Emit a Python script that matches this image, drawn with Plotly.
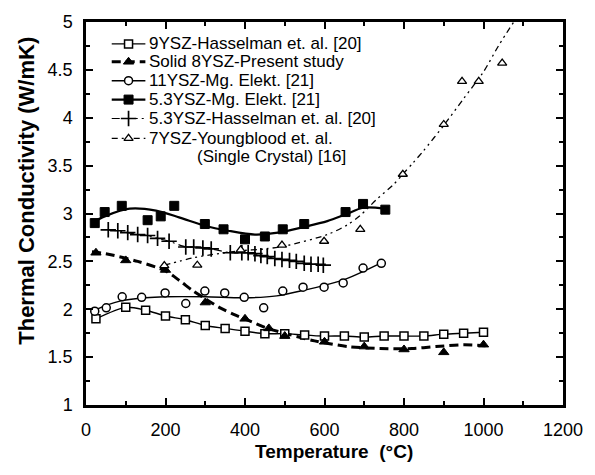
import plotly.graph_objects as go

# ---------------- data (temperature in °C, conductivity in W/mK) ----------------
labels = [
    "9YSZ-Hasselman et. al. [20]",
    "Solid 8YSZ-Present study",
    "11YSZ-Mg. Elekt. [21]",
    "5.3YSZ-Mg. Elekt. [21]",
    "5.3YSZ-Hasselman et. al. [20]",
    "7YSZ-Youngblood et. al.",
]
label_extra = "(Single Crystal) [16]"

# 9YSZ, Hasselman et al.
t_9ysz = [25, 100, 150, 200, 250, 300, 350, 400, 450, 500, 550, 600, 650, 700,
          750, 800, 850, 900, 950, 1000]
k_9ysz = [1.90, 2.02, 1.99, 1.93, 1.89, 1.83, 1.80, 1.77, 1.745, 1.745, 1.73,
          1.72, 1.72, 1.71, 1.72, 1.72, 1.72, 1.74, 1.75, 1.76]

# Solid 8YSZ, present study (measured points and fitted curve)
t_8ysz = [25, 100, 200, 300, 400, 460, 500, 600, 700, 800, 900, 1000]
k_8ysz = [2.59, 2.51, 2.41, 2.07, 1.90, 1.80, 1.72, 1.66, 1.61, 1.58, 1.55, 1.63]
t_8ysz_fit = [15, 50, 130, 200, 235, 270, 300, 335, 370, 410, 450, 490, 575, 660,
              740, 820, 880, 950, 1005]
k_8ysz_fit = [2.60, 2.58, 2.50, 2.40, 2.30, 2.19, 2.11, 2.02, 1.95, 1.88, 1.81,
              1.76, 1.67, 1.61, 1.59, 1.59, 1.61, 1.63, 1.62]

# 11YSZ, Mg. Elektron
t_11ysz = [22, 51, 91, 140, 199, 251, 299, 349, 398, 447, 495, 546, 599, 647, 697, 743]
k_11ysz = [1.98, 2.015, 2.13, 2.125, 2.17, 2.06, 2.19, 2.17, 2.125, 2.015, 2.19,
           2.23, 2.23, 2.275, 2.43, 2.48]
t_11ysz_fit = [12, 50, 90, 150, 200, 300, 400, 480, 550, 600, 650, 700, 745]
k_11ysz_fit = [1.97, 2.04, 2.09, 2.12, 2.13, 2.13, 2.12, 2.14, 2.20, 2.25, 2.31,
               2.40, 2.49]

# 5.3YSZ, Mg. Elektron
t_53mg = [22, 47, 90, 155, 188, 222, 299, 346, 400, 450, 495, 549, 653, 697, 753]
k_53mg = [2.90, 3.015, 3.08, 2.93, 2.97, 3.08, 2.89, 2.835, 2.73, 2.76, 2.835,
          2.89, 3.015, 3.10, 3.04]
t_53mg_fit = [14, 47, 110, 176, 234, 300, 358, 425, 483, 549, 607, 653, 697, 753]
k_53mg_fit = [2.90, 2.97, 3.05, 3.03, 2.96, 2.87, 2.82, 2.78, 2.80, 2.86, 2.92,
              2.99, 3.06, 3.05]

# 5.3YSZ, Hasselman et al.
t_53h = [56, 80, 105, 130, 155, 180, 209, 251, 271, 294, 315, 363, 392, 408, 425,
         440, 456, 475, 493, 512, 529, 549, 566, 584, 597]
k_53h = [2.83, 2.82, 2.80, 2.78, 2.77, 2.74, 2.71, 2.65, 2.65, 2.64, 2.63, 2.59,
         2.59, 2.59, 2.58, 2.56, 2.55, 2.53, 2.52, 2.51, 2.50, 2.48, 2.47, 2.47, 2.46]

# 7YSZ single crystal, Youngblood et al.
t_7ysz = [197, 280, 389, 493, 599, 690, 797, 900, 946, 988, 1047]
k_7ysz = [2.455, 2.46, 2.62, 2.67, 2.71, 2.835, 3.41, 3.93, 4.38, 4.38, 4.57]
t_7ysz_fit = [197, 267, 316, 387, 450, 500, 607, 657, 690, 732, 773, 797, 823,
              848, 900, 950, 1000, 1039, 1076]
k_7ysz_fit = [2.46, 2.535, 2.57, 2.61, 2.63, 2.66, 2.78, 2.88, 2.98, 3.15, 3.30,
              3.41, 3.53, 3.65, 3.92, 4.20, 4.48, 4.76, 5.00]

# ---------------- layout constants ----------------
W, H = 595, 475
ML, MR, MT, MB = 86, 27, 20, 70
PW, PH = W - ML - MR, H - MT - MB
FONT = "Liberation Sans, Arial, Helvetica, sans-serif"
INK = "black"


def paper_x(px):
    return (px - ML) / PW


def paper_y(py):
    return (H - MB - py) / PH


# per-series styling
open_sq = dict(symbol="square", size=8, color="white", line=dict(color=INK, width=1.5))
fill_tri = dict(symbol="triangle-up", size=9, color=INK, line=dict(color=INK, width=1))
open_ci = dict(symbol="circle", size=8, color="white", line=dict(color=INK, width=1.5))
fill_sq = dict(symbol="square", size=9, color=INK, line=dict(color=INK, width=1))
plus = dict(symbol="cross-thin", size=11, color=INK, line=dict(color=INK, width=1.7))
open_tri = dict(symbol="triangle-up", size=8, color="white", line=dict(color=INK, width=1.3))

ln_9 = dict(color=INK, width=1.4, shape="spline", smoothing=0.8)
ln_8 = dict(color=INK, width=3, dash="9px,5px", shape="spline", smoothing=0.8)
ln_11 = dict(color=INK, width=1.4, shape="spline", smoothing=0.8)
ln_53m = dict(color=INK, width=2.2, shape="spline", smoothing=0.8)
ln_53h = dict(color=INK, width=1.2, dash="8px,4px,2px,4px", shape="spline", smoothing=0.6)
ln_7 = dict(color=INK, width=1.3, dash="6px,4px,2px,4px,2px,4px", shape="spline", smoothing=0.8)

fig = go.Figure()

# fitted curves / connecting lines first
curves = [
    (t_9ysz, k_9ysz, ln_9),
    (t_8ysz_fit, k_8ysz_fit, ln_8),
    (t_11ysz_fit, k_11ysz_fit, ln_11),
    (t_53mg_fit, k_53mg_fit, ln_53m),
    (t_53h, k_53h, ln_53h),
    (t_7ysz_fit, k_7ysz_fit, ln_7),
]
for tx, ky, ln in curves:
    fig.add_trace(go.Scatter(x=tx, y=ky, mode="lines", line=ln,
                             showlegend=False, hoverinfo="skip"))

# measured points on top
points = [
    (t_9ysz, k_9ysz, open_sq, labels[0]),
    (t_8ysz, k_8ysz, fill_tri, labels[1]),
    (t_11ysz, k_11ysz, open_ci, labels[2]),
    (t_53mg, k_53mg, fill_sq, labels[3]),
    (t_53h, k_53h, plus, labels[4]),
    (t_7ysz, k_7ysz, open_tri, labels[5]),
]
for tx, ky, mk, nm in points:
    fig.add_trace(go.Scatter(x=tx, y=ky, mode="markers", marker=mk, name=nm,
                             showlegend=False, cliponaxis=True))

# ---------------- key (drawn on an overlay axis spanning the plot area) ----------------
row_y = [42, 60, 79, 98, 117, 137]
extra_y = 155
sample_x0, sample_x1, mark_x, text_x = 112, 146, 129, 148
legend_lines = [ln_9, ln_8, ln_11, ln_53m, ln_53h, ln_7]
legend_marks = [open_sq, fill_tri, open_ci, fill_sq, plus, open_tri]
annotations = []
for i, (lab, ln, mk) in enumerate(zip(labels, legend_lines, legend_marks)):
    yy = paper_y(row_y[i])
    seg = {k: v for k, v in ln.items() if k not in ("shape", "smoothing")}
    fig.add_trace(go.Scatter(x=[paper_x(sample_x0), paper_x(sample_x1)], y=[yy, yy],
                             xaxis="x2", yaxis="y2", mode="lines", line=seg,
                             showlegend=False, hoverinfo="skip", cliponaxis=False))
    fig.add_trace(go.Scatter(x=[paper_x(mark_x)], y=[yy], xaxis="x2", yaxis="y2",
                             mode="markers", marker=mk, showlegend=False,
                             hoverinfo="skip", cliponaxis=False))
    annotations.append(dict(x=paper_x(text_x), y=yy, xref="paper", yref="paper",
                            text=lab, showarrow=False, xanchor="left", yanchor="middle",
                            font=dict(family=FONT, size=17, color=INK)))
annotations.append(dict(x=paper_x(196), y=paper_y(extra_y), xref="paper", yref="paper",
                        text=label_extra, showarrow=False, xanchor="left",
                        yanchor="middle", font=dict(family=FONT, size=17, color=INK)))

# axis titles
annotations.append(dict(x=paper_x(337), y=paper_y(452), xref="paper", yref="paper",
                        text="<b>Temperature  (°C)</b>", showarrow=False,
                        xanchor="center", yanchor="middle",
                        font=dict(family=FONT, size=19, color=INK)))
annotations.append(dict(x=paper_x(25), y=paper_y(190), xref="paper", yref="paper",
                        text="<b>Thermal Conductivity (W/mK)</b>", showarrow=False,
                        textangle=-90, xanchor="center", yanchor="middle",
                        font=dict(family=FONT, size=22, color=INK)))

axis_common = dict(showline=True, linecolor=INK, linewidth=2.5, mirror="allticks",
                   ticks="inside", ticklen=7, tickwidth=1.5, tickcolor=INK,
                   showgrid=False, zeroline=False,
                   tickfont=dict(family=FONT, size=18, color=INK))

fig.update_layout(
    width=W, height=H,
    margin=dict(l=ML, r=MR, t=MT, b=MB),
    paper_bgcolor="white", plot_bgcolor="white",
    showlegend=False,
    xaxis=dict(range=[0, 1200], tick0=0, dtick=200, ticklabelstandoff=7,
               minor=dict(dtick=100, ticks="inside", ticklen=4, tickwidth=1.5,
                          tickcolor=INK),
               **axis_common),
    yaxis=dict(range=[1, 5], tick0=1, dtick=0.5, ticklabelstandoff=7,
               minor=dict(dtick=0.25, ticks="inside", ticklen=4, tickwidth=1.5,
                          tickcolor=INK),
               **axis_common),
    xaxis2=dict(overlaying="x", range=[0, 1], visible=False, fixedrange=True),
    yaxis2=dict(overlaying="y", range=[0, 1], visible=False, fixedrange=True),
    annotations=annotations,
)

fig.write_html("out.html")
